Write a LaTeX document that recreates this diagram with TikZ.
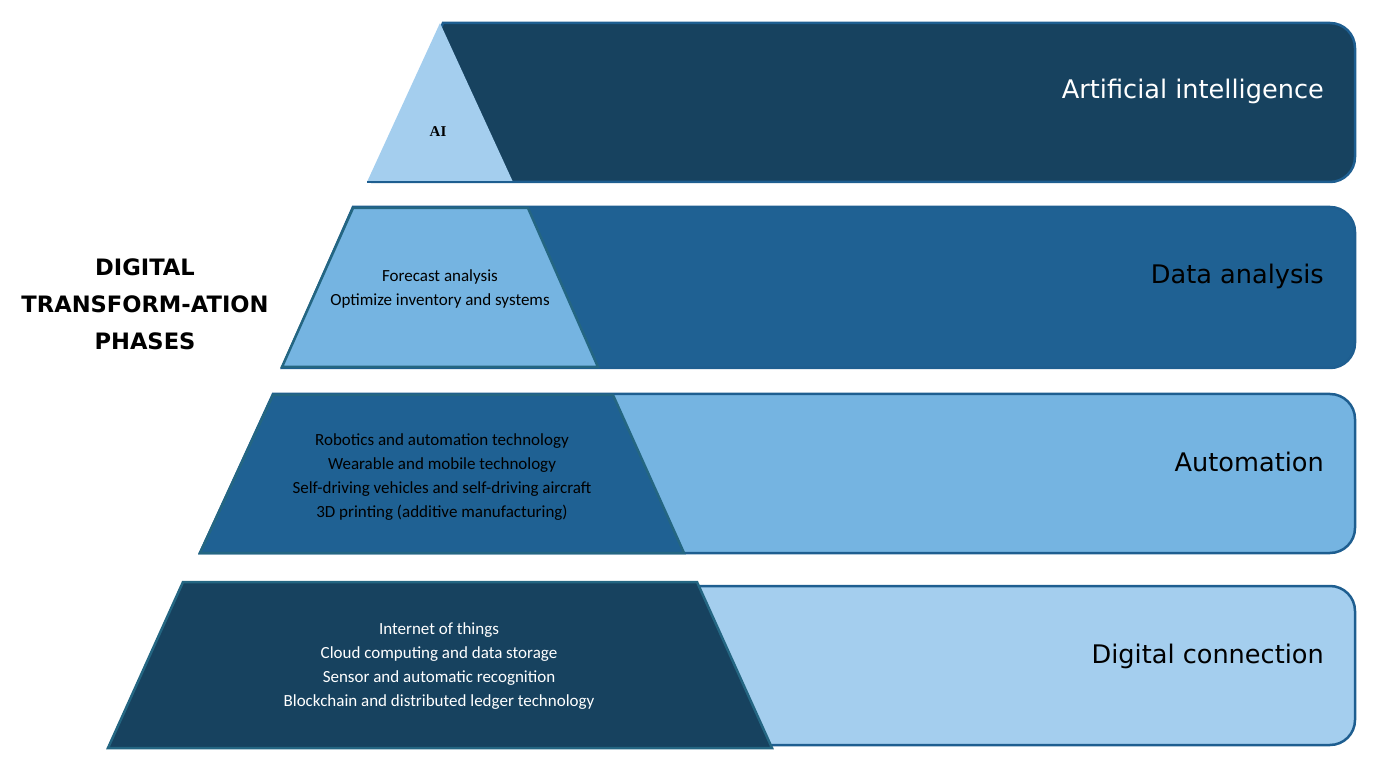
\documentclass[tikz,border=0pt]{standalone}
\usepackage{fontspec}
\setmainfont{DejaVu Sans}
\newfontfamily\itemfont{Carlito}
\newfontfamily\serifbold{Liberation Serif}
\definecolor{navy}{RGB}{23,66,95}
\definecolor{steel}{RGB}{31,97,147}
\definecolor{sky}{RGB}{117,180,225}
\definecolor{pale}{RGB}{164,206,238}
\definecolor{barline}{RGB}{30,94,144}
\definecolor{trapline}{RGB}{36,102,130}
\tikzset{
  phasebar/.style={draw=barline,line width=2.5pt},
  trap/.style={draw=trapline,line width=2.5pt},
  items/.style={font=\itemfont\fontsize{17}{24}\selectfont,align=center},
  phasename/.style={anchor=base east,inner sep=0pt,font=\fontsize{25.6}{30}\selectfont}
}
\begin{document}
\begin{tikzpicture}[x=1pt,y=1pt]
\useasboundingbox (0,0) rectangle (1376,772);
% bars
\draw[phasebar,fill=navy] (443,749) -- (1330,749) arc[start angle=90,end angle=0,radius=25]
  -- (1355,615) arc[start angle=0,end angle=-90,radius=25] -- (373,590) -- cycle;
\draw[phasebar,fill=steel] (353,565) -- (1330,565) arc[start angle=90,end angle=0,radius=25]
  -- (1355,429) arc[start angle=0,end angle=-90,radius=25] -- (282,404) -- cycle;
\draw[phasebar,fill=sky] (273,378) -- (1330,378) arc[start angle=90,end angle=0,radius=25]
  -- (1355,244) arc[start angle=0,end angle=-90,radius=25] -- (200,219) -- cycle;
\draw[phasebar,fill=pale] (182,186) -- (1330,186) arc[start angle=90,end angle=0,radius=25]
  -- (1355,52) arc[start angle=0,end angle=-90,radius=25] -- (110,27) -- cycle;
% pyramid
\coordinate (A) at (440,749);
\coordinate (B) at (513,590);
\coordinate (C) at (367,590);
\fill[pale] (A) -- (B) -- (C) -- cycle;
\draw[barline,line width=2.5pt] (C) -- (B);
\draw[trap,fill=sky] (353,564) -- (528,564) -- (598,405) -- (282,405) -- cycle;
\draw[trap,fill=steel] (273,377) -- (613,377) -- (684,219) -- (200,219) -- cycle;
\draw[trap,fill=navy] (183,190) -- (697,190) -- (772,24) -- (108,24) -- cycle;
% texts
\node[font=\serifbold\bfseries\fontsize{15}{18}\selectfont] (ai) at (438,640) {AI};
\node[items] (analysis) at (440,483) {Forecast analysis\\Optimize inventory and systems};
\node[items] (automation) at (442,295) {Robotics and automation technology\\Wearable and mobile technology\\Self-driving vehicles and self-driving aircraft\\3D printing (additive manufacturing)};
\node[items,text=white] (connection) at (439,106) {Internet of things\\Cloud computing and data storage\\Sensor and automatic recognition\\Blockchain and distributed ledger technology};
\node[phasename,text=white] (p1) at (1324,673) {Artificial intelligence};
\node[phasename] (p2) at (1324,488) {Data analysis};
\node[phasename] (p3) at (1324,301) {Automation};
\node[phasename] (p4) at (1324,109) {Digital connection};
\node[font=\bfseries\fontsize{22.6}{37}\selectfont,align=center] (title) at (145,468) {DIGITAL\\TRANSFORM-ATION\\PHASES};
\end{tikzpicture}
\end{document}
